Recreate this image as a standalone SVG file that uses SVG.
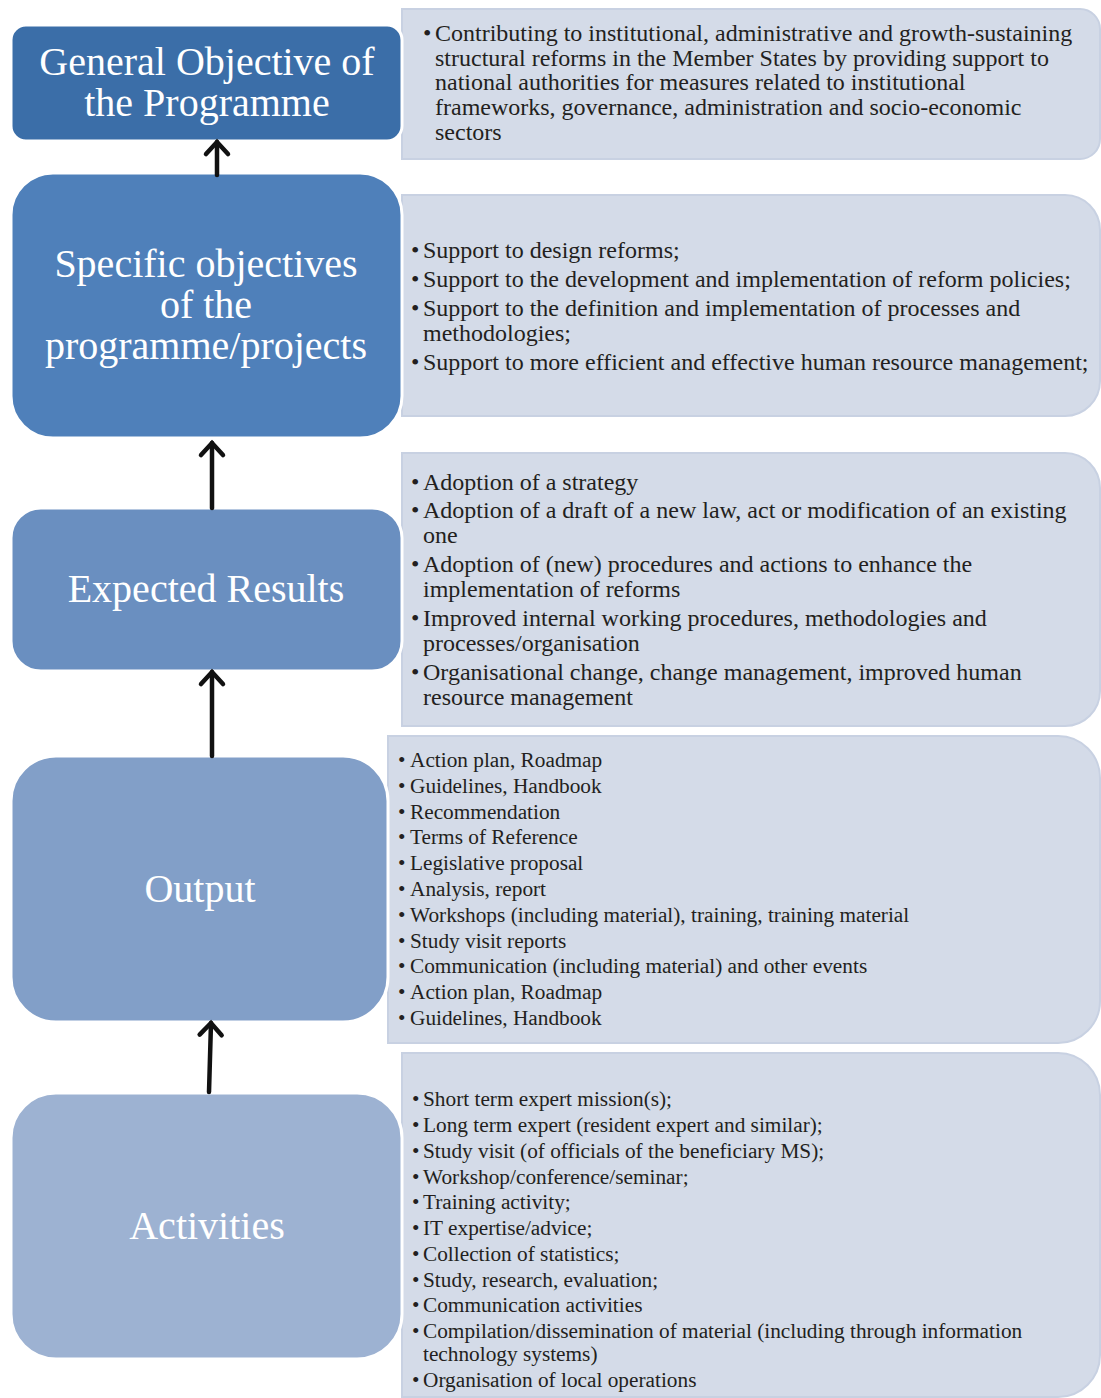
<svg xmlns="http://www.w3.org/2000/svg" width="1101" height="1398" viewBox="0 0 1101 1398">
<defs>
<style>
.title{font-family:"Liberation Serif","Times New Roman",serif;font-size:40px;fill:#ffffff;text-anchor:middle}
.panel{fill:#d4dbe8;stroke:#c8d1e2;stroke-width:2}
.main{stroke:#ffffff;stroke-width:3}
.t24{font-family:"Liberation Serif","Times New Roman",serif;font-size:24px;fill:#231f20}
.t21{font-family:"Liberation Serif","Times New Roman",serif;font-size:21.3px;fill:#231f20}
.conn{stroke:#111111;stroke-width:4.5;fill:none;stroke-linecap:round}
</style>
<marker id="ah" markerUnits="userSpaceOnUse" viewBox="0 0 30 30" refX="22" refY="15" markerWidth="30" markerHeight="30" orient="auto">
<path d="M10,4 L22,15 L10,26" fill="none" stroke="#111111" stroke-width="4.5" stroke-linecap="round" stroke-linejoin="miter"/>
</marker>
</defs>
<rect width="1101" height="1398" fill="#ffffff"/>

<g id="panel-general">
<path class="panel" d="M402,9 H1080 A20,20 0 0 1 1100,29 V139 A20,20 0 0 1 1080,159 H402 Z"/>
<text class="t24" x="423" y="41">•</text>
<text class="t24" x="435" y="41">Contributing to institutional, administrative and growth-sustaining</text>
<text class="t24" x="435" y="65.7">structural reforms in the Member States by providing support to</text>
<text class="t24" x="435" y="90.4">national authorities for measures related to institutional</text>
<text class="t24" x="435" y="115.1">frameworks, governance, administration and socio-economic</text>
<text class="t24" x="435" y="139.8">sectors</text>
</g>

<g id="panel-specific">
<path class="panel" d="M402,195 H1065 A35,35 0 0 1 1100,230 V381 A35,35 0 0 1 1065,416 H402 Z"/>
<text class="t24" x="411" y="258">•</text><text class="t24" x="423" y="258">Support to design reforms;</text>
<text class="t24" x="411" y="287">•</text><text class="t24" x="423" y="287">Support to the development and implementation of reform policies;</text>
<text class="t24" x="411" y="316">•</text><text class="t24" x="423" y="316">Support to the definition and implementation of processes and</text>
<text class="t24" x="423" y="341">methodologies;</text>
<text class="t24" x="411" y="370">•</text><text class="t24" x="423" y="370">Support to more efficient and effective human resource management;</text>
</g>

<g id="panel-results">
<path class="panel" d="M402,453 H1065 A35,35 0 0 1 1100,488 V691 A35,35 0 0 1 1065,726 H402 Z"/>
<text class="t24" x="411" y="490">•</text><text class="t24" x="423" y="490">Adoption of a strategy</text>
<text class="t24" x="411" y="518">•</text><text class="t24" x="423" y="518">Adoption of a draft of a new law, act or modification of an existing</text>
<text class="t24" x="423" y="543">one</text>
<text class="t24" x="411" y="572">•</text><text class="t24" x="423" y="572">Adoption of (new) procedures and actions to enhance the</text>
<text class="t24" x="423" y="597">implementation of reforms</text>
<text class="t24" x="411" y="626">•</text><text class="t24" x="423" y="626">Improved internal working procedures, methodologies and</text>
<text class="t24" x="423" y="651">processes/organisation</text>
<text class="t24" x="411" y="680">•</text><text class="t24" x="423" y="680">Organisational change, change management, improved human</text>
<text class="t24" x="423" y="705">resource management</text>
</g>

<g id="panel-output">
<path class="panel" d="M388,736 H1058 A42,42 0 0 1 1100,778 V1001 A42,42 0 0 1 1058,1043 H388 Z"/>
<text class="t21" x="398" y="767">•</text><text class="t21" x="410" y="767">Action plan, Roadmap</text>
<text class="t21" x="398" y="792.8">•</text><text class="t21" x="410" y="792.8">Guidelines, Handbook</text>
<text class="t21" x="398" y="818.6">•</text><text class="t21" x="410" y="818.6">Recommendation</text>
<text class="t21" x="398" y="844.4">•</text><text class="t21" x="410" y="844.4">Terms of Reference</text>
<text class="t21" x="398" y="870.2">•</text><text class="t21" x="410" y="870.2">Legislative proposal</text>
<text class="t21" x="398" y="896">•</text><text class="t21" x="410" y="896">Analysis, report</text>
<text class="t21" x="398" y="921.8">•</text><text class="t21" x="410" y="921.8">Workshops (including material), training, training material</text>
<text class="t21" x="398" y="947.6">•</text><text class="t21" x="410" y="947.6">Study visit reports</text>
<text class="t21" x="398" y="973.4">•</text><text class="t21" x="410" y="973.4">Communication (including material) and other events</text>
<text class="t21" x="398" y="999.2">•</text><text class="t21" x="410" y="999.2">Action plan, Roadmap</text>
<text class="t21" x="398" y="1025">•</text><text class="t21" x="410" y="1025">Guidelines, Handbook</text>
</g>

<g id="panel-activities">
<path class="panel" d="M402,1053 H1058 A42,42 0 0 1 1100,1095 V1355 A42,42 0 0 1 1058,1397 H402 Z"/>
<text class="t21" x="412" y="1106">•</text><text class="t21" x="423" y="1106">Short term expert mission(s);</text>
<text class="t21" x="412" y="1132">•</text><text class="t21" x="423" y="1132">Long term expert (resident expert and similar);</text>
<text class="t21" x="412" y="1158">•</text><text class="t21" x="423" y="1158">Study visit (of officials of the beneficiary MS);</text>
<text class="t21" x="412" y="1184">•</text><text class="t21" x="423" y="1184">Workshop/conference/seminar;</text>
<text class="t21" x="412" y="1209">•</text><text class="t21" x="423" y="1209">Training activity;</text>
<text class="t21" x="412" y="1235">•</text><text class="t21" x="423" y="1235">IT expertise/advice;</text>
<text class="t21" x="412" y="1261">•</text><text class="t21" x="423" y="1261">Collection of statistics;</text>
<text class="t21" x="412" y="1287">•</text><text class="t21" x="423" y="1287">Study, research, evaluation;</text>
<text class="t21" x="412" y="1312">•</text><text class="t21" x="423" y="1312">Communication activities</text>
<text class="t21" x="412" y="1338">•</text><text class="t21" x="423" y="1338">Compilation/dissemination of material (including through information</text>
<text class="t21" x="423" y="1361">technology systems)</text>
<text class="t21" x="412" y="1387">•</text><text class="t21" x="423" y="1387">Organisation of local operations</text>
</g>

<g id="node-general">
<rect class="main" x="11" y="25" width="391" height="116" rx="15" fill="#3b6ea8"/>
<text class="title" x="207" y="74.5">General Objective of</text>
<text class="title" x="207" y="115.5">the Programme</text>
</g>

<g id="node-specific">
<rect class="main" x="11" y="173" width="391" height="265" rx="42" fill="#4f80ba"/>
<text class="title" x="206" y="277">Specific objectives</text>
<text class="title" x="206" y="318">of the</text>
<text class="title" x="206" y="359">programme/projects</text>
</g>

<g id="node-results">
<rect class="main" x="11" y="508" width="391" height="163" rx="30" fill="#6a8fc0"/>
<text class="title" x="206" y="602">Expected Results</text>
</g>

<g id="node-output">
<rect class="main" x="11" y="756" width="377" height="266" rx="45" fill="#829fc8"/>
<text class="title" x="200" y="902">Output</text>
</g>

<g id="node-activities">
<rect class="main" x="11" y="1093" width="391" height="266" rx="45" fill="#9db2d2"/>
<text class="title" x="207" y="1239">Activities</text>
</g>

<g id="connectors">
<line class="conn" x1="217" y1="175" x2="217" y2="142" marker-end="url(#ah)"/>
<line class="conn" x1="212" y1="508" x2="212" y2="443" marker-end="url(#ah)"/>
<line class="conn" x1="212" y1="756" x2="212" y2="672" marker-end="url(#ah)"/>
<line class="conn" x1="209" y1="1092" x2="211" y2="1023" marker-end="url(#ah)"/>
</g>
</svg>
